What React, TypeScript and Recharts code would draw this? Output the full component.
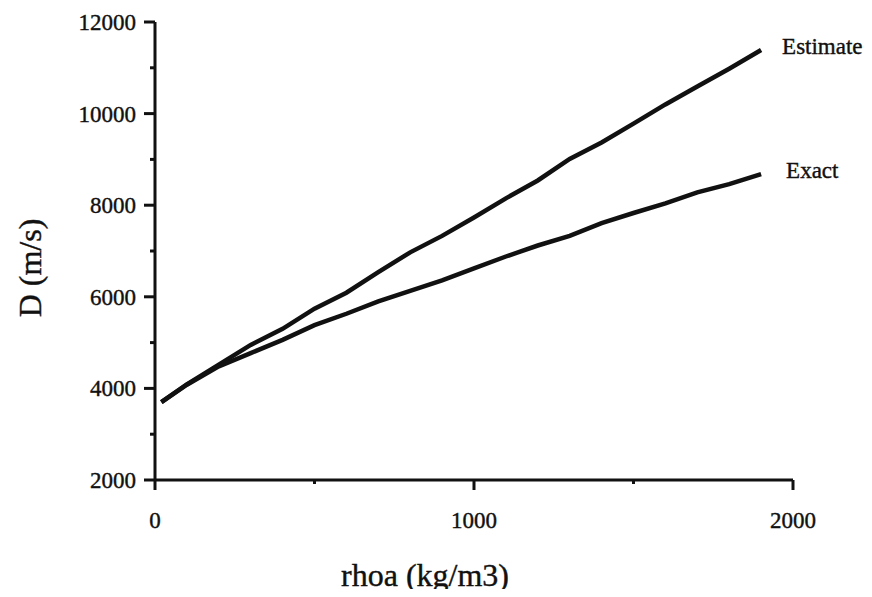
import React from "react";
import { LineChart, Line, XAxis, YAxis } from "recharts";

const rhoa = [20, 100, 200, 300, 400, 500, 600, 700, 800, 900, 1000, 1100, 1200, 1300, 1400, 1500, 1600, 1700, 1800, 1900];
const estimate = [3700, 4090, 4520, 4950, 5300, 5740, 6090, 6540, 6970, 7330, 7730, 8150, 8540, 9010, 9370, 9780, 10200, 10590, 10980, 11390];
const exact = [3700, 4080, 4480, 4770, 5060, 5380, 5630, 5900, 6130, 6360, 6620, 6880, 7120, 7330, 7610, 7830, 8040, 8280, 8460, 8680];

const xTicks = [0, 500, 1000, 1500, 2000];
const yTicks = [2000, 3000, 4000, 5000, 6000, 7000, 8000, 9000, 10000, 11000, 12000];

const data = rhoa.map((r, i) => ({ rhoa: r, estimate: estimate[i], exact: exact[i] }));

const FONT = "'Liberation Serif', 'DejaVu Serif', serif";
const INK = "#111";

function YTick(props: any) {
  const { x, y, payload } = props;
  const major = payload.value % 2000 === 0;
  return (
    <g>
      <line x1={x} x2={x - (major ? 11 : 5)} y1={y} y2={y} stroke={INK} strokeWidth={3} />
      {major && (
        <text x={x - 19} y={y} dy={8} textAnchor="end" fontFamily={FONT} fontSize={23} fill={INK} stroke={INK} strokeWidth={0.4}>
          {payload.value}
        </text>
      )}
    </g>
  );
}

function XTick(props: any) {
  const { x, y, payload } = props;
  const major = payload.value % 1000 === 0;
  return (
    <g>
      <line x1={x} x2={x} y1={y} y2={y + (major ? 10 : 4)} stroke={INK} strokeWidth={3} />
      {major && (
        <text x={x} y={y + 48} textAnchor="middle" fontFamily={FONT} fontSize={23} fill={INK} stroke={INK} strokeWidth={0.4}>
          {payload.value}
        </text>
      )}
    </g>
  );
}

const endLabel = (name: string, dx: number) => (props: any) => {
  const { x, y, index } = props;
  if (index !== data.length - 1) return null;
  return (
    <text x={x + dx} y={y} dy={4} fontFamily={FONT} fontSize={23} fill={INK} stroke={INK} strokeWidth={0.4}>
      {name}
    </text>
  );
};

export default function App() {
  return (
    <div style={{ margin: -8, width: 872, height: 597, background: "#fff" }}>
      <LineChart width={872} height={597} data={data} margin={{ top: 22, right: 79, bottom: 77, left: 75 }}>
        <XAxis
          dataKey="rhoa"
          type="number"
          domain={[0, 2000]}
          ticks={xTicks}
          height={40}
          tickSize={0}
          tickMargin={0}
          tickLine={false}
          axisLine={{ stroke: INK, strokeWidth: 3 }}
          tick={<XTick />}
          label={{
            value: "rhoa (kg/m3)",
            content: () => (
              <text x={425} y={586} textAnchor="middle" fontFamily={FONT} fontSize={32} fill={INK} stroke={INK} strokeWidth={0.4}>
                rhoa (kg/m3)
              </text>
            ),
          }}
        />
        <YAxis
          type="number"
          domain={[2000, 12000]}
          ticks={yTicks}
          width={80}
          tickSize={0}
          tickMargin={0}
          tickLine={false}
          axisLine={{ stroke: INK, strokeWidth: 3 }}
          tick={<YTick />}
          label={{
            value: "D (m/s)",
            content: () => (
              <text
                x={30}
                y={268}
                transform="rotate(-90, 30, 268)"
                textAnchor="middle"
                dominantBaseline="central"
                fontFamily={FONT}
                fontSize={32}
                fill={INK}
                stroke={INK}
                strokeWidth={0.4}
              >
                D (m/s)
              </text>
            ),
          }}
        />
        <Line
          dataKey="estimate"
          type="linear"
          stroke={INK}
          strokeWidth={4.5}
          dot={false}
          isAnimationActive={false}
          label={endLabel("Estimate", 21)}
        />
        <Line
          dataKey="exact"
          type="linear"
          stroke={INK}
          strokeWidth={4.5}
          dot={false}
          isAnimationActive={false}
          label={endLabel("Exact", 25)}
        />
      </LineChart>
    </div>
  );
}
